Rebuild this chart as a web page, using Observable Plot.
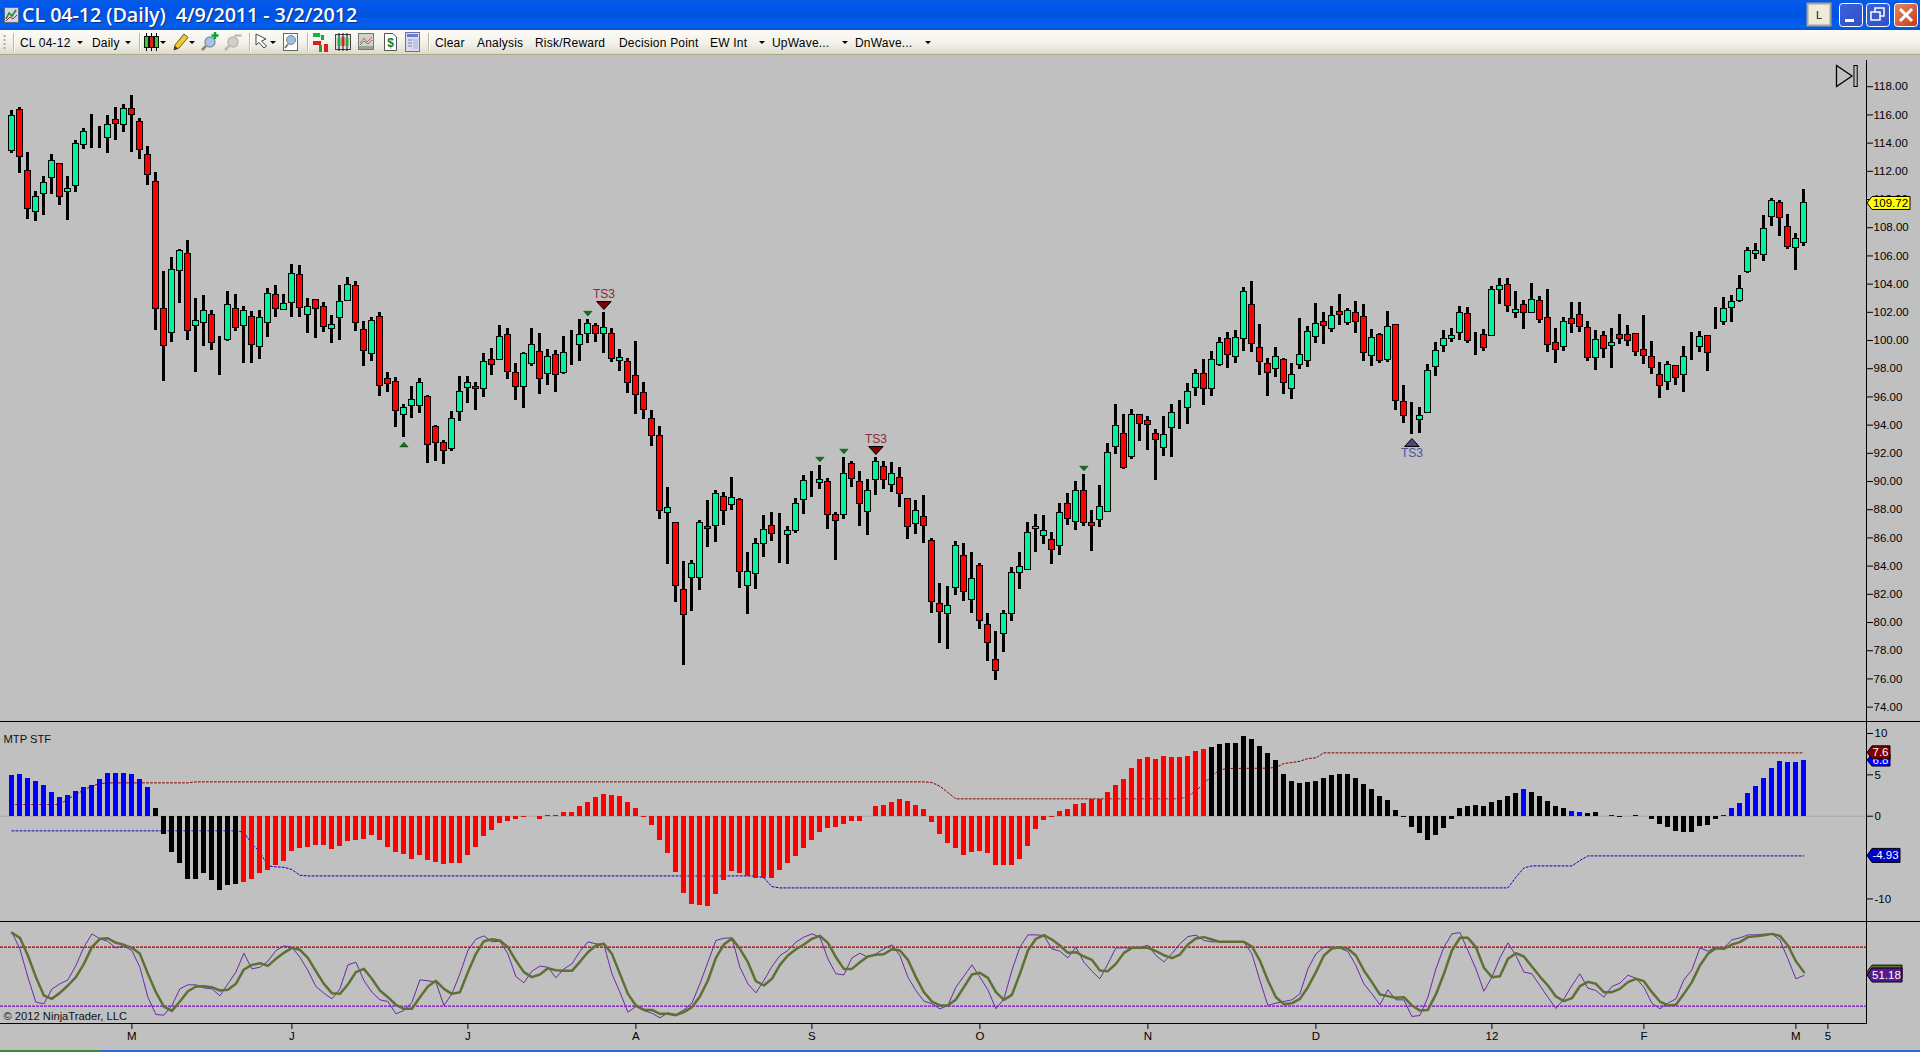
<!DOCTYPE html>
<html>
<head>
<meta charset="utf-8">
<script src="https://cdn.jsdelivr.net/npm/d3@7"></script>
<script src="https://cdn.jsdelivr.net/npm/@observablehq/plot@0.6"></script>
<style>
html,body{margin:0;padding:0;background:#c0c0c0;overflow:hidden}
#win{position:relative;width:1920px;height:1052px;overflow:hidden;background:#c0c0c0;font-family:"Liberation Sans",Arial,sans-serif}
.pane{position:absolute;left:0;width:1920px}
.pane svg{display:block}
#titlebar{position:absolute;left:0;top:0;width:1920px;height:30px;background:linear-gradient(180deg,#0a5be0 0%,#0058ee 12%,#0053e0 50%,#0060f0 85%,#0a55d0 100%)}
#title{position:absolute;left:22px;top:1px;color:#fff;font:600 19.8px "Open Sans",sans-serif;white-space:pre;text-shadow:1px 1px 0 #0a2a8a;letter-spacing:-.1px}
#toolbar{position:absolute;left:0;top:30px;width:1920px;height:24px;background:linear-gradient(180deg,#fbfaf5 0%,#f3f2ea 55%,#dcdac8 100%);border-bottom:1px solid #aca88c}
.tb{position:absolute;top:6px;font-size:12px;color:#000;white-space:pre;line-height:14px;letter-spacing:.2px}
.ar{position:absolute;top:11px;width:0;height:0;border-left:3px solid transparent;border-right:3px solid transparent;border-top:3px solid #000}
.sep{position:absolute;top:3px;width:1px;height:18px;background:#b8b6a4;border-right:1px solid #fff}
.line{position:absolute;left:0;width:1920px;height:1.5px;background:#000}
#status{position:absolute;left:0;top:1050px;width:1920px;height:2px;background:#2a6ad8}
#status i{position:absolute;left:0;top:0;width:100px;height:2px;background:#3a8a3a}
</style>
</head>
<body>
<div id="win">
  <div id="titlebar">
    <svg style="position:absolute;left:4px;top:7px" width="15" height="16"><rect x=".5" y=".5" width="14" height="15" fill="#cfd6e4" stroke="#5a6a8a"/><path d="M2 12 L5 6 L8 9 L12 3" fill="none" stroke="#1a8a2a" stroke-width="1.5"/><path d="M2 14 L6 10 L9 12 L13 8" fill="none" stroke="#c02020"/></svg>
    <div id="title">CL 04-12 (Daily)  4/9/2011 - 3/2/2012</div>
    <svg style="position:absolute;left:1806px;top:2px" width="114" height="26">
      <rect x="1.5" y="1.5" width="23" height="22" fill="#efebdc" stroke="#a8a490" stroke-width="2"/>
      <text x="13" y="17" text-anchor="middle" font-size="11" font-family="Liberation Sans" fill="#111">L</text>
      <defs><linearGradient id="bb" x1="0" y1="0" x2="1" y2="1"><stop offset="0" stop-color="#3a62d8"/><stop offset="1" stop-color="#3050c8"/></linearGradient>
      <linearGradient id="rb" x1="0" y1="0" x2="1" y2="1"><stop offset="0" stop-color="#e48a60"/><stop offset="1" stop-color="#c83818"/></linearGradient></defs>
      <rect x="33.5" y="1.5" width="23" height="23" rx="3" fill="url(#bb)" stroke="#fff"/>
      <rect x="39" y="17" width="9" height="3" fill="#fff"/>
      <rect x="60.5" y="1.5" width="23" height="23" rx="3" fill="url(#bb)" stroke="#fff"/>
      <rect x="69" y="6" width="9" height="8" fill="none" stroke="#fff" stroke-width="1.5"/><rect x="65" y="10" width="9" height="8" fill="#3a5ad0" stroke="#fff" stroke-width="1.5"/>
      <rect x="88.5" y="1.5" width="23" height="23" rx="3" fill="url(#rb)" stroke="#fff"/>
      <path d="M94 7 L106 19 M106 7 L94 19" stroke="#fff" stroke-width="3"/>
    </svg>
  </div>
  <div id="toolbar">
    <svg style="position:absolute;left:3px;top:4px" width="4" height="16"><path d="M1.5 1V15" stroke="#b0ae9c" stroke-width="2" stroke-dasharray="2,2"/></svg>
    <div class="sep" style="left:13px"></div>
    <div class="tb" style="left:20px">CL 04-12</div><div class="ar" style="left:77px"></div>
    <div class="tb" style="left:92px">Daily</div><div class="ar" style="left:125px"></div>
    <div class="sep" style="left:139px"></div>
    <svg style="position:absolute;left:143px;top:2px" width="16" height="20"><g stroke="#000"><path d="M3.5 1V19M8.5 1V19M13.5 1V19"/></g><rect x="1.5" y="4.5" width="4" height="11" fill="#30d030" stroke="#111"/><rect x="6.5" y="4.5" width="4" height="11" fill="#e02020" stroke="#111"/><rect x="11.5" y="4.5" width="4" height="11" fill="#30d030" stroke="#111"/></svg><div class="ar" style="left:160px"></div>
    <svg style="position:absolute;left:173px;top:2px" width="16" height="20"><path d="M1 18 L2 13 L11 2 L15 5.5 L6 16 Z" fill="#f4c830" stroke="#6a5a20"/><path d="M1 18L2 14L5 16.5Z" fill="#333"/></svg><div class="ar" style="left:189px"></div>
    <svg style="position:absolute;left:201px;top:2px" width="18" height="20"><circle cx="9" cy="10" r="5" fill="#a8c4e8" stroke="#8a96a8" stroke-width="1.5"/><path d="M5 14L1 18" stroke="#8a8270" stroke-width="2.5"/><path d="M14 0V7M10.5 3.5H17.5" stroke="#10a030" stroke-width="2.4"/></svg>
    <svg style="position:absolute;left:224px;top:2px" width="18" height="20"><circle cx="9" cy="10" r="5" fill="#d0d0c8" stroke="#b8b8b0" stroke-width="1.5"/><path d="M5 14L1 18" stroke="#b8b8b0" stroke-width="2.5"/><path d="M10.5 3.5H17.5" stroke="#b8b8b0" stroke-width="2.2"/></svg>
    <div class="sep" style="left:249px"></div>
    <svg style="position:absolute;left:254px;top:3px" width="15" height="18"><path d="M2 1 L2 12 L5 9.5 L10 15 L12.5 13 L7.5 8 L12 6 Z" fill="#fff" stroke="#444"/></svg><div class="ar" style="left:270px"></div>
    <svg style="position:absolute;left:282px;top:2px" width="17" height="20"><rect x="1.5" y="1.5" width="14" height="17" fill="#fff" stroke="#666"/><circle cx="9" cy="8" r="4.5" fill="#9cc0e0" stroke="#7a8aa0"/><path d="M6 12L3 16" stroke="#8a7a60" stroke-width="2"/></svg>
    <div class="sep" style="left:307px"></div>
    <svg style="position:absolute;left:312px;top:1px" width="17" height="22"><path d="M1 4H9M1 11H10" stroke="#bbb"/><rect x="1" y="2" width="7" height="4" fill="#20b040"/><rect x="9" y="4" width="3" height="5" fill="#20a040"/><rect x="1" y="10" width="8" height="4" fill="#d82020"/><rect x="7" y="14" width="3" height="7" fill="#20a040"/><rect x="12" y="13" width="4" height="8" fill="#d82020"/></svg>
    <svg style="position:absolute;left:335px;top:2px" width="16" height="20"><rect x=".5" y="2.5" width="15" height="15" fill="#e0e0d8" stroke="#444"/><path d="M4 1V19M8 1V19M12 1V19" stroke="#111"/><rect x="2.5" y="6" width="3" height="8" fill="#20b040"/><rect x="6.5" y="5" width="3" height="9" fill="#d82020"/><rect x="10.5" y="6" width="3" height="8" fill="#20b040"/></svg>
    <svg style="position:absolute;left:358px;top:3px" width="16" height="18"><rect x=".5" y=".5" width="15" height="16" fill="#d0d4c8" stroke="#777"/><path d="M2 10L6 5L9 9L14 4" fill="none" stroke="#d06060"/><path d="M2 12L6 8L10 11L14 7" fill="none" stroke="#40a060"/><rect x="1" y="13" width="14" height="3" fill="#a0a098"/></svg>
    <svg style="position:absolute;left:383px;top:2px" width="15" height="20"><path d="M1.5 1.5H10L13.5 5V18.5H1.5Z" fill="#fff" stroke="#555"/><text x="7.5" y="15" text-anchor="middle" font-size="12" font-weight="bold" fill="#108030" font-family="Liberation Sans">$</text></svg>
    <svg style="position:absolute;left:405px;top:2px" width="15" height="20"><rect x=".5" y=".5" width="14" height="19" fill="#e0d8ec" stroke="#6670a0"/><rect x="2" y="2" width="11" height="3" fill="#6080d0"/><path d="M3 8H7M3 11H7M3 14H7" stroke="#7080b0"/><rect x="8" y="7" width="5" height="10" fill="#b8c8e8"/></svg>
    <div class="sep" style="left:428px"></div>
    <div class="tb" style="left:435px">Clear</div>
    <div class="tb" style="left:477px">Analysis</div>
    <div class="tb" style="left:535px">Risk/Reward</div>
    <div class="tb" style="left:619px">Decision Point</div>
    <div class="tb" style="left:710px">EW Int</div><div class="ar" style="left:759px"></div>
    <div class="tb" style="left:772px">UpWave...</div><div class="ar" style="left:842px"></div>
    <div class="tb" style="left:855px">DnWave...</div><div class="ar" style="left:925px"></div>
  </div>
  <div class="pane" id="price" style="top:55px"></div>
  <div class="pane" id="mtp" style="top:721px"></div>
  <div class="pane" id="stoch" style="top:921px"></div>
  <div class="line" style="top:720.5px"></div>
  <div class="line" style="top:920.5px"></div>
  <svg style="position:absolute;left:1834px;top:63px" width="26" height="26"><path d="M2.5 2.5V23.5L18 13Z" fill="none" stroke="#000" stroke-width="1.3"/><rect x="20" y="2.5" width="3.2" height="21" fill="none" stroke="#000" stroke-width="1"/></svg>
  <div id="status"><i></i></div>
</div>
<script>
const open = [
113.43,116.36,112.01,109.10,110.40,111.51,112.53,110.52,110.95,113.86,
114.85,114.71,114.35,115.65,115.30,116.43,115.51,113.17,111.26,102.25,
100.55,104.94,106.15,101.04,101.26,101.82,99.39,100.03,102.25,101.04,
101.68,99.55,101.26,103.24,102.18,102.67,104.66,101.82,102.89,102.39,
100.83,101.61,102.81,103.88,100.76,99.06,101.68,97.28,97.07,94.73,
95.37,95.37,96.01,93.88,92.72,92.32,94.94,96.65,96.69,96.57,
98.63,98.63,100.40,97.71,96.72,98.35,99.20,97.64,98.99,97.71,
99.72,99.70,100.47,101.04,100.47,100.47,98.54,98.49,97.50,96.28,
94.44,93.23,87.77,87.03,82.31,83.16,83.16,86.78,86.83,88.91,
88.34,88.70,82.60,83.45,85.57,86.85,86.40,86.21,86.50,88.70,
89.97,89.90,89.97,87.63,87.63,91.25,89.97,87.84,90.11,91.04,
89.76,90.26,88.77,86.99,87.49,85.79,81.32,80.61,82.45,84.72,
81.60,84.02,79.83,77.35,79.19,80.61,83.52,83.73,86.64,86.14,
85.86,85.43,88.41,87.13,89.33,87.03,87.28,87.84,92.45,93.38,
91.75,94.72,94.30,93.38,92.36,93.78,95.03,95.20,96.64,97.63,
96.57,98.29,100.11,98.84,100.11,102.53,99.48,98.34,97.99,98.63,
96.57,98.27,98.55,100.26,101.32,100.82,102.03,101.25,101.96,101.67,
98.91,100.40,98.63,101.11,95.65,94.25,94.37,94.84,98.13,99.62,
100.11,100.54,101.89,100.22,100.41,100.31,103.60,103.95,101.94,102.53,
101.94,102.82,101.61,99.84,99.53,101.54,101.82,100.90,98.75,100.33,
99.60,100.41,100.41,100.48,99.34,98.85,97.57,97.05,98.21,97.55,
99.15,99.53,100.33,101.19,101.30,102.32,102.79,104.85,106.15,106.08,
108.77,109.77,108.06,106.58,106.93];
const high = [
116.31,116.55,113.31,110.57,111.63,113.17,112.53,111.63,114.19,115.01,
116.01,115.18,115.94,116.53,116.74,117.38,115.72,113.76,111.92,104.90,
105.89,106.43,107.09,102.98,103.19,102.11,100.29,103.48,103.26,102.39,
102.04,102.11,103.69,103.90,103.26,105.39,105.32,102.98,102.91,102.67,
101.75,103.90,104.47,104.19,101.33,101.61,101.96,97.73,97.35,95.44,
96.74,97.31,96.08,93.97,92.91,94.97,97.45,97.45,97.02,99.06,
99.41,101.04,100.83,98.39,99.13,100.83,100.47,99.36,99.27,100.29,
100.69,101.47,101.47,101.18,101.99,100.83,99.34,98.70,99.93,97.02,
95.01,93.90,89.57,87.03,84.32,84.39,87.21,88.65,89.36,89.19,
90.28,88.77,84.96,85.93,87.56,87.77,87.70,86.78,88.77,90.40,
90.71,91.13,90.18,87.77,91.70,91.41,90.71,90.14,91.70,91.41,
91.34,90.99,88.77,88.65,89.00,85.93,82.76,82.55,85.72,85.57,
84.94,84.16,80.61,79.36,80.82,83.87,84.94,87.09,87.66,87.58,
86.36,88.41,89.12,90.00,90.49,87.94,89.69,92.69,95.43,94.75,
95.10,94.72,94.61,93.68,94.61,95.46,95.74,96.95,97.94,98.65,
99.22,100.20,100.56,100.71,103.73,104.18,101.13,98.72,99.50,98.72,
98.37,101.56,100.99,102.62,101.98,102.41,103.26,102.27,102.76,102.55,
100.78,100.47,102.05,101.11,96.80,95.60,95.25,98.29,99.83,100.71,
100.85,102.41,102.34,100.57,100.78,103.83,104.40,104.40,103.48,102.84,
104.05,103.12,103.62,100.85,101.63,102.70,102.70,101.35,100.71,100.64,
100.85,101.85,101.07,100.50,101.78,99.93,98.44,98.51,98.23,99.58,
100.57,100.64,100.36,102.34,103.05,103.19,104.61,106.60,106.88,108.87,
110.07,109.93,108.94,107.57,110.71];
const low = [
113.29,111.82,108.61,108.47,108.89,110.36,109.60,108.54,110.52,113.57,
113.64,113.64,113.29,114.21,114.78,113.36,112.86,111.02,100.74,97.12,
99.88,102.65,100.00,97.76,99.60,99.32,97.54,99.95,100.66,98.39,
98.39,98.68,100.24,101.66,102.11,101.66,101.66,100.52,100.17,100.59,
99.81,100.03,102.79,100.66,98.18,98.54,96.05,96.34,93.86,93.15,
94.49,94.85,91.30,91.44,91.23,92.11,94.28,95.56,95.06,95.98,
97.54,98.63,97.24,95.77,95.20,98.18,96.20,96.83,96.34,97.61,
98.25,98.54,99.79,99.88,99.10,98.47,97.82,96.27,94.78,94.42,
92.50,87.32,84.13,81.44,76.97,80.80,82.29,85.34,85.69,86.88,
87.94,82.43,80.59,82.36,84.63,85.76,84.20,84.13,86.33,87.68,
88.86,89.45,86.62,84.42,87.32,89.59,86.83,86.19,89.03,89.45,
89.24,88.18,85.91,86.26,85.62,80.66,78.53,78.11,81.91,81.49,
80.66,79.52,77.25,75.91,77.89,80.09,82.36,83.73,84.98,85.53,
84.13,84.77,86.90,86.54,86.83,85.06,86.76,87.84,91.93,90.82,
91.58,92.83,92.19,90.10,91.77,91.70,93.68,94.04,96.03,95.39,
96.03,98.15,98.01,98.37,99.22,99.15,97.51,96.03,97.37,96.17,
95.81,97.94,98.08,99.78,99.71,100.56,101.06,101.06,100.49,98.51,
98.15,98.37,98.44,95.03,94.11,93.33,93.40,94.82,97.44,99.15,
99.85,99.99,99.81,98.94,99.22,100.31,102.56,101.99,101.56,100.78,
101.94,101.21,99.15,98.37,99.22,100.50,100.57,98.51,97.88,98.73,
98.02,99.72,99.58,98.87,98.30,97.59,95.89,96.46,96.81,96.32,
98.59,99.15,97.81,100.78,101.07,101.28,102.70,104.75,105.75,105.61,
108.09,107.38,106.46,104.97,106.69];
const close = [
115.89,113.00,109.34,110.19,111.18,112.74,110.19,110.76,113.95,114.80,
114.85,114.71,115.30,115.34,116.43,116.01,113.52,111.75,102.25,99.60,
105.01,106.36,100.69,101.40,102.11,99.84,99.39,102.53,100.90,102.11,
99.70,101.61,103.31,102.25,102.60,104.73,102.32,102.39,102.25,100.97,
101.11,102.74,103.95,101.26,99.27,101.40,96.79,96.93,95.01,95.23,
95.79,97.00,92.60,92.75,92.18,94.45,96.36,97.00,96.55,98.49,
98.28,100.26,97.76,96.72,99.06,99.70,97.28,98.84,97.57,99.13,
99.72,100.40,101.18,100.47,100.90,98.70,98.77,97.00,96.15,95.08,
93.21,87.92,88.13,82.57,80.54,84.16,87.03,86.64,89.12,87.92,
88.84,83.59,83.59,85.57,86.57,86.28,86.40,86.50,88.41,90.04,
89.97,90.11,87.63,87.21,90.54,90.18,88.41,89.33,91.39,90.11,
90.54,89.12,86.78,87.92,86.85,81.46,80.75,81.18,85.43,82.17,
83.09,80.11,78.55,76.57,80.61,83.52,83.94,86.36,86.78,86.50,
85.15,87.77,87.35,89.33,87.06,86.85,88.20,92.03,93.94,90.97,
94.72,94.06,94.02,92.93,93.31,94.87,95.03,96.36,97.63,96.57,
98.63,99.83,98.98,100.19,103.45,99.76,98.48,97.70,98.84,96.99,
97.56,98.98,100.61,101.18,101.04,101.75,101.82,102.10,101.32,99.12,
100.19,98.55,100.97,95.72,94.63,94.25,94.65,97.85,99.26,100.11,
100.33,101.96,99.96,100.22,99.46,103.60,103.88,102.44,102.18,101.94,
102.89,101.45,99.67,99.32,101.33,101.16,100.95,98.75,100.05,99.39,
99.84,100.10,99.96,99.18,98.89,98.04,96.77,98.28,97.33,98.85,
99.15,100.26,99.11,101.19,102.25,102.75,103.67,106.36,106.36,107.92,
109.91,108.70,106.62,107.21,109.72];

const mtp = [
4.92,5.04,4.56,4.19,3.71,2.86,2.26,2.50,2.98,3.47,
3.71,4.44,5.16,5.16,5.16,5.04,4.44,3.47,0.93,-2.22,
-4.40,-5.73,-7.66,-7.66,-6.94,-7.78,-8.99,-8.39,-8.27,-8.02,
-7.66,-6.94,-6.57,-5.97,-5.48,-4.27,-3.91,-3.79,-3.55,-3.55,
-4.03,-3.67,-3.06,-2.94,-2.82,-2.34,-2.94,-3.79,-4.40,-4.64,
-5.24,-4.76,-5.36,-5.60,-5.85,-5.73,-5.73,-4.76,-3.79,-2.46,
-1.73,-0.89,-0.65,-0.36,-0.12,-0.04,-0.40,0.04,0.12,0.44,
0.44,1.17,1.65,2.26,2.62,2.50,2.38,1.65,0.93,-0.16,
-1.13,-2.94,-4.52,-6.81,-9.35,-10.69,-10.81,-10.93,-9.48,-7.78,
-6.69,-6.94,-7.30,-7.54,-7.54,-7.54,-6.57,-5.73,-4.88,-3.91,
-2.94,-1.98,-1.49,-1.37,-1.01,-0.65,-0.65,0,1.17,1.29,
1.65,2.02,1.77,1.29,0.81,-0.77,-2.22,-3.31,-3.91,-4.76,
-4.40,-4.27,-4.52,-5.97,-5.97,-5.97,-5.24,-3.67,-1.61,-0.52,
-0.16,0.56,0.81,1.41,1.53,2.02,2.02,2.86,3.71,4.44,
5.77,6.85,7.10,6.85,7.22,7.10,7.10,7.22,7.82,8.06,
8.31,8.67,8.79,8.79,9.64,9.27,8.43,7.58,6.73,5.04,
4.19,3.95,4.07,4.19,4.56,4.92,5.04,5.04,4.56,3.83,
3.23,2.38,1.90,0.69,-0.16,-1.37,-2.10,-2.94,-2.34,-1.49,
-0.40,0.93,1.17,1.29,1.17,1.65,1.90,2.38,2.74,3.23,
2.86,2.38,1.77,1.17,0.93,0.56,0.44,0.32,0.44,0,
0.08,-0.12,0,0.08,-0.08,-0.40,-1.01,-1.37,-1.85,-1.98,
-1.98,-1.25,-1.13,-0.40,0.12,0.93,1.53,2.74,3.59,4.56,
5.77,6.61,6.49,6.49,6.73];
const mtpRuns = [["#0000ff",18],["#000000",11],["#ff0000",121],["#000000",39],["#0000ff",1],["#000000",5],["#0000ff",2],["#000000",3],["#0000ff",1],["#000000",13],["#0000ff",11]];
const upperBand = [[0,1.41],[6,1.41],[7,2.10],[8,2.62],[9,3.19],[10,3.63],[11,3.95],[12,4.03],[22,4.03],[23,4.15],[114,4.15],[115,4.07],[116,3.63],[117,2.86],[118,2.10],[146,2.10],[147,2.38],[148,3.10],[149,3.91],[150,4.92],[151,5.61],[152,5.77],[157,5.81],[158,5.90],[159,6.37],[160,6.49],[161,6.65],[162,6.97],[163,7.06],[164,7.66],[224,7.66]];
const lowerBand = [[0,-1.77],[28,-1.77],[29,-1.94],[30,-3.35],[31,-4.35],[32,-6.00],[33,-6.13],[34,-6.17],[35,-6.45],[36,-7.14],[37,-7.22],[93,-7.22],[94,-7.46],[95,-8.51],[96,-8.67],[187,-8.67],[188,-7.38],[189,-6.25],[190,-6.01],[195,-6.01],[196,-5.36],[197,-4.80],[224,-4.80]];

const stochK = [
95.2,78.3,49.5,24.0,22.4,37.3,42.7,46.8,61.3,80.0,
93.5,88.5,85.8,79.3,81.0,76.6,59.6,29.1,11.5,10.8,
20.7,37.6,41.7,41.7,38.6,37.6,30.5,42.7,54.6,73.9,
57.9,59.6,65.7,76.6,81.3,80.0,69.8,56.3,40.0,33.2,
27.4,37.6,62.0,64.7,46.1,34.2,26.4,24.7,12.2,15.6,
23.7,46.8,45.8,44.4,20.7,32.5,52.9,76.6,88.1,91.5,
85.4,86.1,73.2,50.1,43.7,55.6,60.7,59.6,48.8,57.9,
63.0,75.6,85.4,83.4,82.7,52.9,34.2,13.9,19.6,15.6,
12.9,8.1,13.2,11.5,16.2,23.0,42.7,64.7,86.8,89.1,
89.5,59.6,42.7,33.5,46.1,60.3,71.5,76.6,85.1,90.2,
93.5,90.2,68.1,52.9,51.8,69.1,73.9,69.8,73.2,78.3,
82.4,71.5,49.5,35.9,25.1,22.4,17.3,20.7,39.3,50.5,
62.0,49.5,36.6,17.3,27.4,56.3,80.0,92.5,92.5,91.8,
78.3,75.9,69.1,80.0,64.7,55.6,47.8,63.0,79.3,79.3,
79.3,79.3,82.0,71.5,65.1,73.2,83.4,90.8,92.2,86.8,
85.4,85.4,85.4,85.4,85.4,73.2,46.1,20.7,23.0,24.7,
26.4,32.5,57.9,73.2,80.0,80.0,79.0,75.6,61.3,42.7,
32.5,21.4,36.6,26.4,26.4,9.5,10.5,29.1,57.9,80.0,
93.5,94.9,76.6,57.9,35.2,49.5,69.1,84.4,71.5,54.6,
52.9,41.0,29.1,17.6,27.4,41.0,52.9,38.3,35.9,29.1,
40.0,43.4,51.5,48.4,39.3,23.0,17.3,23.0,27.4,46.8,
56.9,79.3,75.9,80.0,79.3,87.4,89.5,92.5,92.5,93.2,
93.5,87.4,68.1,47.8,51.18];
const stochD = [
94.6,89.5,71.5,49.5,30.8,27.4,33.5,41.0,49.5,63.0,
80.0,88.5,89.1,84.4,82.4,79.3,73.2,52.9,34.2,19.6,
15.2,24.7,35.2,40.0,40.3,39.3,35.9,36.6,42.7,57.3,
62.0,63.7,61.0,68.1,74.2,79.3,77.3,69.1,55.6,42.7,
33.2,32.5,42.0,54.6,57.9,47.8,35.9,29.1,21.4,17.3,
17.3,29.1,40.0,45.8,37.6,32.5,34.2,54.6,73.2,86.1,
88.1,86.8,80.0,66.4,54.6,49.5,52.2,58.6,56.6,55.9,
55.9,65.1,74.9,81.7,83.4,73.2,52.9,32.5,20.7,16.2,
16.2,12.2,12.2,10.8,13.9,19.0,29.8,46.1,69.1,82.7,
88.8,78.3,64.7,45.4,41.0,47.8,62.0,71.5,77.9,82.7,
88.5,91.5,84.4,69.8,57.9,57.9,64.7,70.5,72.2,72.9,
77.9,76.6,67.1,49.5,34.2,24.7,20.7,20.7,26.8,39.3,
52.2,53.9,48.8,34.2,26.4,31.5,52.9,76.6,88.5,92.2,
87.8,81.7,74.2,74.9,70.5,67.1,56.3,55.6,63.0,74.2,
79.3,79.3,79.3,75.9,71.8,68.8,72.5,82.7,88.8,90.2,
87.8,85.4,85.4,85.4,85.4,80.7,66.4,46.1,29.1,22.0,
23.0,27.4,39.3,54.6,71.5,78.6,80.0,78.3,71.5,56.3,
44.4,31.9,30.2,28.5,29.1,20.7,15.6,16.2,31.9,52.9,
76.6,89.5,89.5,80.0,59.0,49.5,50.5,68.1,73.9,70.5,
60.3,50.1,41.0,29.8,25.1,28.1,40.3,44.7,42.7,34.2,
34.2,37.6,44.4,47.8,45.4,34.2,24.7,20.7,21.4,32.5,
44.4,61.3,73.2,79.0,78.3,82.7,85.1,90.2,91.2,92.2,
93.5,91.5,81.7,65.7,54.6];
const stochLevels = [{v:80,c:"#a00000"},{v:20,c:"#7a10c0"}];

const priceTicks = d3.range(74, 119, 2);
const mtpTicks = [10, 5, 0, -10];
const monthIdx = [15, 35, 57, 78, 100, 121, 142, 163, 185, 204, 223, 227];
const monthLab = ["M", "J", "J", "A", "S", "O", "N", "D", "12", "F", "M", "5"];
const ts3 = [{i:74, p:102.48},{i:108, p:92.20}];
const ts3Up = [{i:175, p:92.77}];
const miniDown = [{i:72,p:101.91},{i:101,p:91.56},{i:104,p:92.13},{i:134,p:90.92}];
const miniUp = [{i:49,p:92.62}];

const X_DOMAIN = [-1.425, 231.825];
const FONT = '"Liberation Sans",Arial,sans-serif';
const bars = open.map((o,i)=>({i,open:o,high:high[i],low:low[i],close:close[i]}));
const colors = mtpRuns.flatMap(([c,n])=>d3.range(n).map(()=>c));
const mtpData = mtp.map((v,i)=>({i,v,c:colors[i]}));
const kData = stochK.map((v,i)=>({i,v}));
const dData = stochD.map((v,i)=>({i,v}));

const flatDown = {draw(c,size){const r=Math.sqrt(size/Math.PI),w=r*1.45,h=r*.8;c.moveTo(-w,-h);c.lineTo(w,-h);c.lineTo(0,h);c.closePath();}};
const flatUp = {draw(c,size){const r=Math.sqrt(size/Math.PI),w=r*1.45,h=r*.8;c.moveTo(-w,h);c.lineTo(w,h);c.lineTo(0,-h);c.closePath();}};

const xOpt = {domain:X_DOMAIN, axis:null};
const base = {width:1920, marginLeft:0, marginRight:54, style:{background:"transparent",fontFamily:FONT,fontSize:"11px",color:"#000",overflow:"visible"}, x:xOpt, color:{type:"identity"}};

function tag(v,label,fill,txt,w,h=13,fs=11.5){
  return (index,{y},values,dim)=>{
    const yy=y(v), x0=dim.width-dim.marginRight+1, top=yy-h/2;
    const g=d3.create("svg:g");
    g.append("polygon").attr("points",[[x0,yy],[x0+5,top],[x0+w,top],[x0+w,top+h],[x0+5,top+h]].map(p=>p.join(",")).join(" "))
      .attr("fill",fill).attr("stroke","#000").attr("stroke-width",1);
    if(label) g.append("text").attr("x",x0+w/2+2).attr("y",yy+4).attr("text-anchor","middle")
      .attr("font-size",fs).attr("font-family",FONT).attr("fill",txt).text(label);
    return g.node();
  };
}

const pricePlot = Plot.plot({...base, height:666, marginTop:5, marginBottom:0,
  y:{domain:[72.98,119.86], axis:null},
  marks:[
    Plot.ruleX(bars,{x:"i",y1:"low",y2:"high",stroke:"#000",strokeWidth:3,shapeRendering:"crispEdges"}),
    Plot.rect(bars,{x1:d=>d.i-0.36,x2:d=>d.i+0.36,y1:"open",y2:"close",fill:d=>d.close>=d.open?"#00f59a":"#ff0000",stroke:"#000",strokeWidth:1,shapeRendering:"crispEdges"}),
    Plot.axisY({anchor:"right",ticks:priceTicks,tickFormat:d=>d.toFixed(2),tickSize:6,tickPadding:1,label:null,fontSize:11.5}),
    Plot.frame({anchor:"right",stroke:"#000"}),
    Plot.dot(ts3,{x:"i",y:"p",symbol:flatDown,r:5,fill:"#800000",stroke:"#000",strokeWidth:1}),
    Plot.text(ts3,{x:"i",y:"p",text:()=>"TS3",dy:-11,fontSize:12,fill:"#8a2a3a"}),
    Plot.dot(ts3Up,{x:"i",y:"p",symbol:flatUp,r:5,fill:"#48487e",stroke:"#000",strokeWidth:1}),
    Plot.text(ts3Up,{x:"i",y:"p",text:()=>"TS3",dy:11,fontSize:12,fill:"#50509a"}),
    Plot.dot(miniDown,{x:"i",y:"p",symbol:flatDown,r:2.9,fill:"#008000",stroke:"#222",strokeWidth:.5}),
    Plot.dot(miniUp,{x:"i",y:"p",symbol:flatUp,r:2.9,fill:"#008000",stroke:"#222",strokeWidth:.5}),
    tag(close[close.length-1],"109.72","#ffff00","#000",43)
  ]});
document.getElementById("price").append(pricePlot);

const mtpPlot = Plot.plot({...base, height:200, marginTop:0, marginBottom:0,
  y:{domain:[-12.73,11.45], axis:null},
  marks:[
    Plot.ruleY([0],{stroke:"#a8a8a8",strokeWidth:1}),
    Plot.line(upperBand,{x:d=>d[0],y:d=>d[1],stroke:"#8b0000",strokeWidth:1,strokeDasharray:"2,2"}),
    Plot.line(lowerBand,{x:d=>d[0],y:d=>d[1],stroke:"#0000c8",strokeWidth:1,strokeDasharray:"2,2"}),
    Plot.rect(mtpData,{x1:d=>d.i-0.31,x2:d=>d.i+0.31,y1:0,y2:"v",fill:"c",shapeRendering:"crispEdges"}),
    Plot.axisY({anchor:"right",ticks:mtpTicks,tickFormat:d=>d,tickSize:6,tickPadding:2,label:null,fontSize:11.5}),
    Plot.frame({anchor:"right",stroke:"#000"}),
    Plot.text(["MTP STF"],{frameAnchor:"top-left",dx:3,dy:14,fontSize:11.2,fill:"#111"}),
    tag(-4.8,"-4.93","#0000cd","#fff",33,14),
    tag(mtp[mtp.length-1],"6.8","#0000ff","#fff",23,12),
    tag(7.66,"7.6","#800000","#fff",23,13)
  ]});
document.getElementById("mtp").append(mtpPlot);

const stochPlot = Plot.plot({...base, height:129, marginTop:0, marginBottom:27,
  x:{domain:X_DOMAIN},
  y:{domain:[2.35,106.1], axis:null},
  marks:[
    Plot.ruleY(stochLevels,{y:"v",stroke:"c",strokeWidth:1.3,strokeDasharray:"3,1"}),
    Plot.line(kData,{x:"i",y:"v",stroke:"#6a2aa8",strokeWidth:1}),
    Plot.line(dData,{x:"i",y:"v",stroke:"#5f7035",strokeWidth:2.5,strokeLinejoin:"round"}),
    Plot.axisX({ticks:monthIdx,tickFormat:d=>monthLab[monthIdx.indexOf(d)],tickSize:6,tickPadding:2,label:null,fontSize:11.5}),
    Plot.frame({anchor:"right",stroke:"#000"}),
    Plot.frame({anchor:"bottom",stroke:"#000",strokeWidth:1.2}),
    Plot.text(["© 2012 NinjaTrader, LLC"],{frameAnchor:"bottom-left",dx:3,dy:-4,fontSize:11.2,fill:"#111"}),
    tag(stochD[stochD.length-1],"","#5f7035","#fff",35,13),
    tag(stochK[stochK.length-1],"51.18","#551a8b","#fff",35,14)
  ]});
document.getElementById("stoch").append(stochPlot);
</script>
</body>
</html>
